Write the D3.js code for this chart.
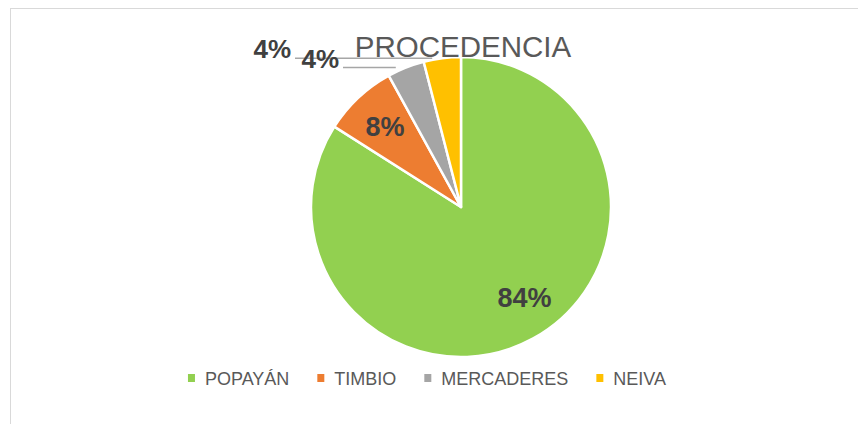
<!DOCTYPE html>
<html>
<head>
<meta charset="utf-8">
<script src="https://cdn.jsdelivr.net/npm/d3@7"></script>
<style>
  body { margin: 0; background: #fff; }
  svg { display: block; font-family: "Liberation Sans", Arial, sans-serif; }
</style>
</head>
<body>
<div id="chart"></div>
<script>
var categories = ["POPAYÁN", "TIMBIO", "MERCADERES", "NEIVA"];
var counts = [21, 2, 1, 1];
var colors = ["#92D050", "#ED7D31", "#A5A5A5", "#FFC000"];
// which labels go outside with a leader line, and how far left their line starts
var outside = [false, false, true, true];
var leaderStart = [0, 0, 118, 166];

var width = 858;
var height = 424;
var cx = 461;
var cy = 207;
var radius = 150;

var total = d3.sum(counts);
var formatPercent = d3.format(".0%");

var data = categories.map(function(c, i) {
  return { name: c, value: counts[i], color: colors[i], outside: outside[i], lead: leaderStart[i] };
});

var svg = d3.select("#chart").append("svg")
  .attr("width", width)
  .attr("height", height);

// chart frame
svg.append("rect")
  .attr("x", 10.5)
  .attr("y", 8.5)
  .attr("width", width)
  .attr("height", height)
  .attr("fill", "none")
  .attr("stroke", "#d9d9d9");

var pie = d3.pie()
  .sort(null)
  .value(function(d) { return d.value; });

var arc = d3.arc()
  .innerRadius(0)
  .outerRadius(radius);

var labelArc = d3.arc()
  .innerRadius(radius * 0.74)
  .outerRadius(radius * 0.74);

var edgeArc = d3.arc()
  .innerRadius(radius)
  .outerRadius(radius);

var arcs = pie(data);

var g = svg.append("g")
  .attr("transform", "translate(" + cx + "," + cy + ")");

g.selectAll("path.slice")
  .data(arcs)
  .enter().append("path")
    .attr("class", "slice")
    .attr("d", arc)
    .attr("fill", function(d) { return d.data.color; })
    .attr("stroke", "#fff")
    .attr("stroke-width", 2.5)
    .attr("stroke-linejoin", "round");

var leaders = g.append("g");

// excel's best-fit nudges the big label a bit toward the right
function inPos(d) {
  var c = labelArc.centroid(d);
  if (d.data.value / total > 0.5) { c[0] += 10; c[1] -= 7; }
  return c;
}

g.selectAll("text.inlabel")
  .data(arcs.filter(function(d) { return !d.data.outside; }))
  .enter().append("text")
    .attr("class", "inlabel")
    .attr("transform", function(d) { return "translate(" + inPos(d) + ")"; })
    .attr("text-anchor", "middle")
    .attr("dy", "0.36em")
    .attr("font-size", 27)
    .attr("font-weight", "bold")
    .attr("fill", "#404040")
    .text(function(d) { return formatPercent(d.data.value / total); });

var outArcs = arcs.filter(function(d) { return d.data.outside; });

leaders.selectAll("line")
  .data(outArcs)
  .enter().append("line")
    .attr("x1", function(d) { return -d.data.lead; })
    .attr("x2", function(d) { return edgeArc.centroid(d)[0] - 10; })
    .attr("y1", function(d) { return edgeArc.centroid(d)[1]; })
    .attr("y2", function(d) { return edgeArc.centroid(d)[1]; })
    .attr("stroke", "#a6a6a6")
    .attr("stroke-width", 1.5);

svg.append("text")
  .attr("x", 463)
  .attr("y", 57)
  .attr("text-anchor", "middle")
  .attr("font-size", 29.5)
  .attr("fill", "#595959")
  .text("PROCEDENCIA");

g.selectAll("text.outlabel")
  .data(outArcs)
  .enter().append("text")
    .attr("class", "outlabel")
    .attr("x", function(d) { return -d.data.lead - 4; })
    .attr("y", function(d) { return edgeArc.centroid(d)[1]; })
    .attr("text-anchor", "end")
    .attr("font-size", 26)
    .attr("font-weight", "bold")
    .attr("fill", "#404040")
    .text(function(d) { return formatPercent(d.data.value / total); });

// legend
var legend = svg.append("g")
  .attr("transform", "translate(0, 378)");

var items = legend.selectAll("g.item")
  .data(data)
  .enter().append("g")
    .attr("class", "item");

items.append("rect")
  .attr("y", -4)
  .attr("width", 7)
  .attr("height", 8)
  .attr("fill", function(d) { return d.color; });

items.append("text")
  .attr("x", 17)
  .attr("y", 7)
  .attr("font-size", 18)
  .attr("fill", "#595959")
  .text(function(d) { return d.name; });

var offsets = [];
var pos = 0;
items.each(function() {
  offsets.push(pos);
  var w = d3.select(this).select("text").node().getComputedTextLength();
  pos += 17 + w + 28;
});
var legendWidth = pos - 28;
var legendLeft = 427 - legendWidth / 2;

items.attr("transform", function(d, i) {
  return "translate(" + (legendLeft + offsets[i]) + ",0)";
});
</script>
</body>
</html>
